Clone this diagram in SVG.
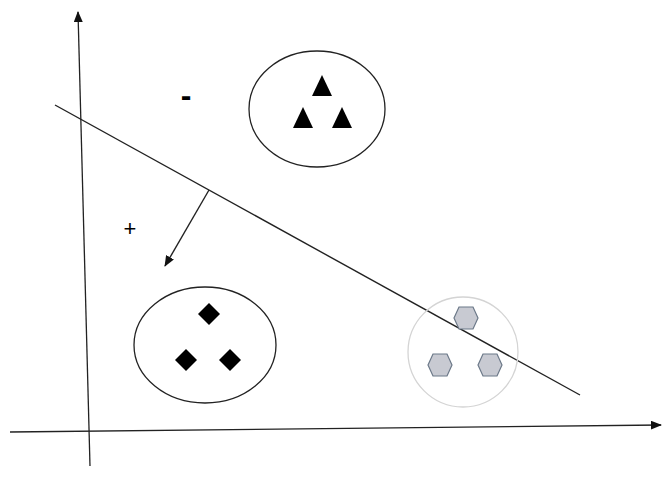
<svg xmlns="http://www.w3.org/2000/svg" width="665" height="483" viewBox="0 0 665 483">
<style>
.ax{stroke:#222;stroke-width:1.3;fill:none}
.ln{stroke:#222;stroke-width:1.4;fill:none}
.el{stroke:#222;stroke-width:1.3;fill:none}
.tri,.dia{fill:#000}
.hex{fill:#c8cad2;stroke:#6b7888;stroke-width:1.2}
.lbl{font-family:"Liberation Sans",Arial,sans-serif;fill:#000}
</style>
<defs>
<marker id="ah" markerWidth="11" markerHeight="9" refX="10" refY="4.5" orient="auto" markerUnits="userSpaceOnUse">
<path d="M0,0 L11,4.5 L0,9 Z" fill="#111"/>
</marker>
</defs>
<rect width="665" height="483" fill="#fff"/>
<g id="connectors">
<line class="ax" x1="90" y1="466" x2="78" y2="12" marker-end="url(#ah)"/>
<line class="ax" x1="10" y1="432" x2="661" y2="425" marker-end="url(#ah)"/>
<line class="ln" x1="55" y1="105" x2="580" y2="395"/>
<line class="ln" x1="209" y1="190" x2="165" y2="266" marker-end="url(#ah)"/>
</g>
<g id="minus"><text class="lbl" x="186" y="106" font-size="32" font-weight="bold" text-anchor="middle">-</text></g>
<g id="plus"><text class="lbl" x="130" y="236" font-size="22" text-anchor="middle">+</text></g>
<g id="triangles">
<ellipse class="el" cx="317" cy="109" rx="68" ry="58"/>
<polygon class="tri" points="322,75 312,96 332,96"/>
<polygon class="tri" points="303,107 293,128 313,128"/>
<polygon class="tri" points="342,107 332,128 352,128"/>
</g>
<g id="diamonds">
<ellipse class="el" cx="205" cy="345" rx="71" ry="58"/>
<polygon class="dia" points="209,303 220,314 209,325 198,314"/>
<polygon class="dia" points="186,349 197,360 186,371 175,360"/>
<polygon class="dia" points="230,349 241,360 230,371 219,360"/>
</g>
<g id="hexagons">
<circle cx="463" cy="352" r="55" fill="none" stroke="#d4d4d4" stroke-width="1.3"/>
<polygon class="hex" points="459,307 473,307 478,318 473,329 459,329 454,318"/>
<polygon class="hex" points="433,354 447,354 452,365 447,376 433,376 428,365"/>
<polygon class="hex" points="483,354 497,354 502,365 497,376 483,376 478,365"/>
</g>
</svg>
